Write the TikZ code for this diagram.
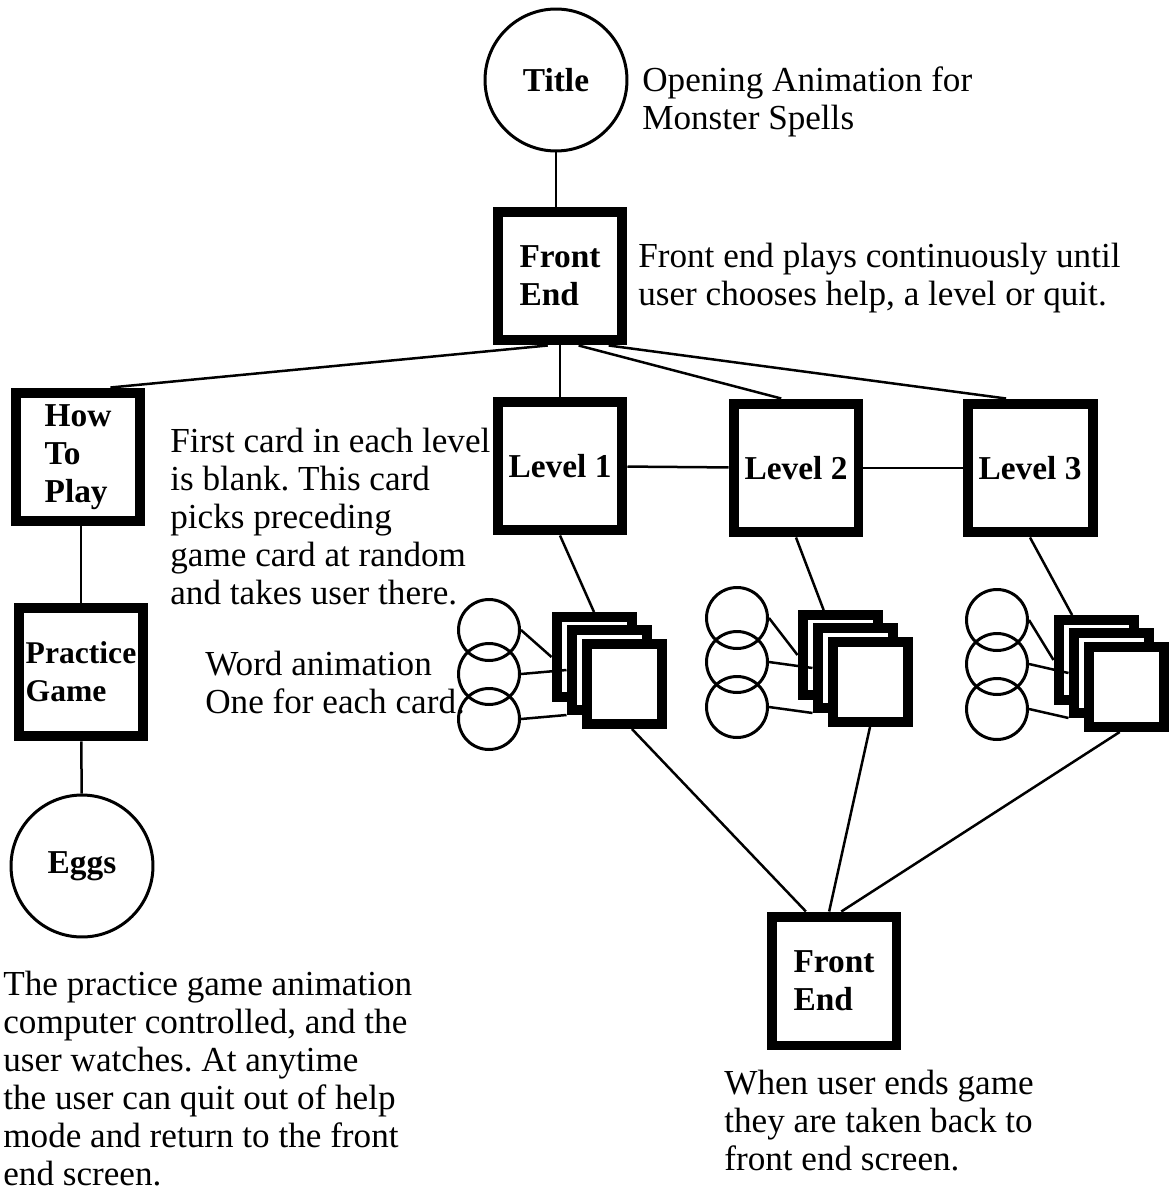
\documentclass[tikz,border=0pt]{standalone}
\usepackage{fontspec}
\setmainfont{Liberation Serif}
\frenchspacing

\tikzset{
	screen/.style={draw, fill=white, line width=.2cm, minimum width=2.5cm, minimum height=2.58cm, inner sep=0pt, align=left, font=\bfseries\fontsize{19}{21.6}\selectfont},
	anim/.style={draw, circle, line width=.06cm, minimum size=2.84cm, inner sep=0pt, font=\bfseries\fontsize{19}{21.6}\selectfont},
	card/.style={draw, fill=white, line width=.2cm, minimum width=1.5cm, minimum height=1.6cm, inner sep=0pt},
	word/.style={draw, circle, line width=.06cm, minimum size=1.22cm, inner sep=0pt},
	note/.style={anchor=north west, inner sep=0pt, align=left, font=\fontsize{20}{21.6}\selectfont},
	link/.style={line width=.05cm}
}

\begin{document}
\begin{tikzpicture}[x=.02cm, y=-.02cm]
		\useasboundingbox (0,0) rectangle (1169,1193);

		\node[anim] (title) at (556,80) {Title};
		\node[screen] (fe1) at (560,276) {Front\\End};
		\node[screen] (howto) at (78,457) {How\\To\\Play};
		\node[screen, font=\bfseries\fontsize{18}{21.6}\selectfont] (practice) at (81,672) {Practice\\Game};
		\node[anim] (eggs) at (82,866) {Eggs};
		\node[screen] (lv1) at (560,466) {Level 1};
		\node[screen] (lv2) at (796,468) {Level 2};
		\node[screen] (lv3) at (1030,468) {Level 3};
		\node[screen] (fe2) at (834,981) {Front\\End};

		\draw[link] (title.south) to (title.south |- fe1.north);
		\draw[link] (fe1.260) to (howto.65);
		\draw[link] (fe1.south) to (lv1.north);
		\draw[link] (fe1.285) to (lv2.102);
		\draw[link] (fe1.305) to (lv3.109);
		\draw[link] (lv1) to (lv2);
		\draw[link] (lv2) to (lv3);
		\draw[link] (practice.north |- howto.south) to (practice.north);
		\draw[link] (practice) to (eggs);

		% one stack of game cards and word animations per level
		\foreach \n/\cx/\cy/\wx/\wy/\ain/\aout/\afe in {1/594/657/489/630/90/280/112, 2/840/655/737/618/110/270/94, 3/1096/660/997/620/118/262/84} {
			\node[word] (w\n-1) at (\wx,\wy) {};
			\node[word] (w\n-2) at (\wx,\wy+44) {};
			\node[word] (w\n-3) at (\wx,\wy+89) {};
			\node[card] (k\n-1) at (\cx,\cy) {};
			\node[card] (k\n-2) at (\cx+15,\cy+13) {};
			\node[card] (k\n-3) at (\cx+30,\cy+27) {};
			\draw[link] (w\n-1.east) to (k\n-1.west);
			\draw[link] (w\n-2.east) to (k\n-2.west);
			\draw[link] (w\n-3.east) to (k\n-2.south west);
			\draw[link] (lv\n.south) to (k\n-1.\ain);
			\draw[link] (k\n-3.\aout) to (fe2.\afe);
		}

		\node[note] (optext) at (642,66) {Opening Animation for\\Monster Spells};
		\node[note] (fetext) at (638,243) {Front end plays continuously until\\user chooses help, a level or quit.};
		\node[note] (cardtext) at (170,428) {First card in each level\\is blank. This card\\picks preceding\\game card at random\\and takes user there.};
		\node[note] (wordtext) at (205,651) {Word animation\\One for each card.};
		\node[note] (helptext) at (3,971) {The practice game animation\\computer controlled, and the\\user watches. At anytime\\the user can quit out of help\\mode and return to the front\\end screen.};
		\node[note] (endtext) at (724,1070) {When user ends game\\they are taken back to\\front end screen.};
	\end{tikzpicture}
\end{document}
